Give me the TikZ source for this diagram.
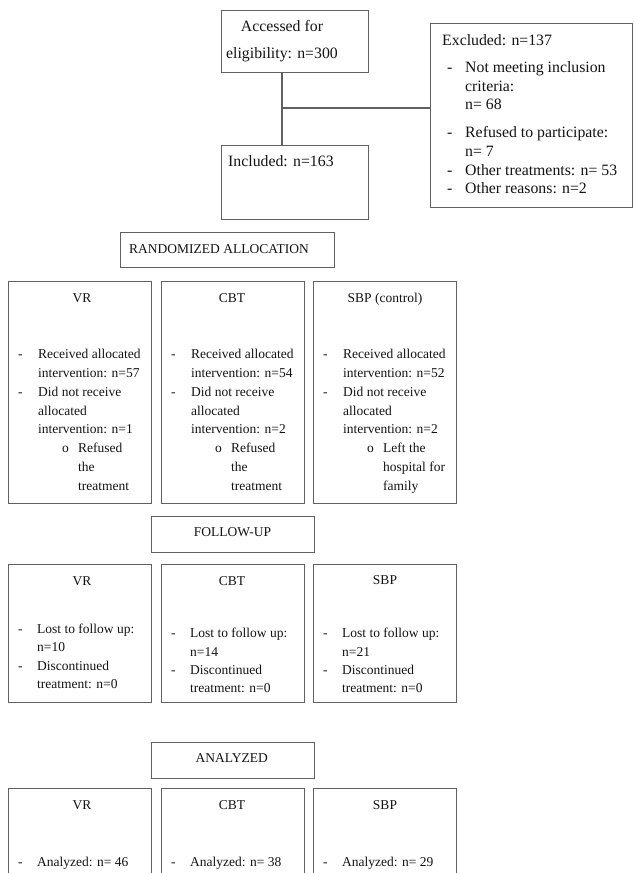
\documentclass[tikz,border=0pt]{standalone}
\usepackage{fontspec}
\setmainfont{Liberation Serif}
\newcommand\fbig{\fontsize{15.8}{18.6}\selectfont}
\newcommand\fmid{\fontsize{13.5}{18.9}\selectfont}
\newcommand\ffu{\fontsize{13.5}{18.4}\selectfont}
\begin{document}
\begin{tikzpicture}[x=1pt,y=-1pt,
  frame/.style={draw=black!62, line width=1.1pt, inner sep=0pt, anchor=north west},
  conn/.style={draw=black!62, line width=1.3pt},
  txt/.style={inner sep=0pt, text=black!92, font=\fmid},
  bigtxt/.style={txt, font=\fbig}]
\useasboundingbox (0,0) rectangle (634,873);
\clip (0,0) rectangle (634,873);
\fill[white] (0,0) rectangle (634,873);

% ---- top section ----
\node[frame, minimum width=147pt, minimum height=62pt] (top) at (221,10) {};
\node[frame, minimum width=202pt, minimum height=184pt] (excl) at (430,23) {};
\node[frame, minimum width=147pt, minimum height=74pt] (incl) at (221,145) {};
\coordinate (jn) at (282,108);
\draw[conn] (jn |- top.south) -- (jn |- incl.north);
\draw[conn] (jn) -- (jn -| excl.west);

\node[bigtxt, anchor=base] (t1) at (282,31.7) {Accessed for};
\node[bigtxt, anchor=base] (t2) at (282,58) {eligibility: n=300};
\node[bigtxt, anchor=base west] (exT) at (442,45) {\begin{tabular}[t]{@{}p{23pt}@{}l@{}}
\multicolumn{2}{@{}l@{}}{Excluded: n=137}\\[9pt]
\hspace{5pt}- & Not meeting inclusion\\
 & criteria:\\
 & n= 68\\[9.5pt]
\hspace{5pt}- & Refused to participate:\\
 & n= 7\\
\hspace{5pt}- & Other treatments: n= 53\\
\hspace{5pt}- & Other reasons: n=2
\end{tabular}};
\node[bigtxt, anchor=base west] (incT) at (228,166.7) {Included: n=163};

% ---- allocation ----
\node[frame, minimum width=214pt, minimum height=35pt] (rand) at (120,232) {};
\node[txt, anchor=base] (randT) at (219,253) {RANDOMIZED ALLOCATION};

\node[frame, minimum width=143pt, minimum height=222pt] (aVR) at (8,281) {};
\node[frame, minimum width=143pt, minimum height=222pt] (aCBT) at (161,281) {};
\node[frame, minimum width=143pt, minimum height=222pt] (aSBP) at (313,281) {};
\node[txt, anchor=base] (aVRT) at (82,302.7) {VR};
\node[txt, anchor=base] (aCBTT) at (232,302.7) {CBT};
\node[txt, anchor=base] (aSBPT) at (385,302.7) {SBP (control)};
\node[txt, anchor=base west] (aVRL) at (18,358.3) {\begin{tabular}[t]{@{}p{20pt}@{}l@{}}
- & Received allocated\\
 & intervention: n=57\\
- & Did not receive\\
 & allocated\\
 & intervention: n=1\\
 & \hspace{24pt}\makebox[16pt][l]{o}Refused\\
 & \hspace{40pt}the\\
 & \hspace{40pt}treatment
\end{tabular}};
\node[txt, anchor=base west] (aCBTL) at (171,358.3) {\begin{tabular}[t]{@{}p{20pt}@{}l@{}}
- & Received allocated\\
 & intervention: n=54\\
- & Did not receive\\
 & allocated\\
 & intervention: n=2\\
 & \hspace{24pt}\makebox[16pt][l]{o}Refused\\
 & \hspace{40pt}the\\
 & \hspace{40pt}treatment
\end{tabular}};
\node[txt, anchor=base west] (aSBPL) at (323,358.3) {\begin{tabular}[t]{@{}p{20pt}@{}l@{}}
- & Received allocated\\
 & intervention: n=52\\
- & Did not receive\\
 & allocated\\
 & intervention: n=2\\
 & \hspace{24pt}\makebox[16pt][l]{o}Left the\\
 & \hspace{40pt}hospital for\\
 & \hspace{40pt}family
\end{tabular}};

% ---- follow-up ----
\node[frame, minimum width=163pt, minimum height=36pt] (fu) at (151,516) {};
\node[txt, anchor=base] (fuT) at (232.5,536.7) {FOLLOW-UP};
\node[frame, minimum width=143pt, minimum height=138pt] (fVR) at (8,564) {};
\node[frame, minimum width=143pt, minimum height=138pt] (fCBT) at (161,564) {};
\node[frame, minimum width=143pt, minimum height=138pt] (fSBP) at (313,564) {};
\node[txt, anchor=base] (fVRT) at (82,585) {VR};
\node[txt, anchor=base] (fCBTT) at (232,585) {CBT};
\node[txt, anchor=base] (fSBPT) at (385,584) {SBP};
\node[txt, font=\ffu, anchor=base west] (fVRL) at (18,633.3) {\begin{tabular}[t]{@{}p{19pt}@{}l@{}}
- & Lost to follow up:\\
 & n=10\\
- & Discontinued\\
 & treatment: n=0
\end{tabular}};
\node[txt, font=\ffu, anchor=base west] (fCBTL) at (171,637.7) {\begin{tabular}[t]{@{}p{19pt}@{}l@{}}
- & Lost to follow up:\\
 & n=14\\
- & Discontinued\\
 & treatment: n=0
\end{tabular}};
\node[txt, font=\ffu, anchor=base west] (fSBPL) at (323,637.7) {\begin{tabular}[t]{@{}p{19pt}@{}l@{}}
- & Lost to follow up:\\
 & n=21\\
- & Discontinued\\
 & treatment: n=0
\end{tabular}};

% ---- analyzed ----
\node[frame, minimum width=163pt, minimum height=36pt] (an) at (151,742) {};
\node[txt, anchor=base] (anT) at (231.7,762.7) {ANALYZED};
\node[frame, minimum width=143pt, minimum height=100pt] (nVR) at (8,788) {};
\node[frame, minimum width=143pt, minimum height=100pt] (nCBT) at (161,788) {};
\node[frame, minimum width=143pt, minimum height=100pt] (nSBP) at (313,788) {};
\node[txt, anchor=base] (nVRT) at (82,809.3) {VR};
\node[txt, anchor=base] (nCBTT) at (232,809.3) {CBT};
\node[txt, anchor=base] (nSBPT) at (385,809.3) {SBP};
\node[txt, anchor=base west] (nVRL) at (18,866) {\begin{tabular}[t]{@{}p{19pt}@{}l@{}} - & Analyzed: n= 46\end{tabular}};
\node[txt, anchor=base west] (nCBTL) at (171,866) {\begin{tabular}[t]{@{}p{19pt}@{}l@{}} - & Analyzed: n= 38\end{tabular}};
\node[txt, anchor=base west] (nSBPL) at (323,866) {\begin{tabular}[t]{@{}p{19pt}@{}l@{}} - & Analyzed: n= 29\end{tabular}};
\end{tikzpicture}
\end{document}
